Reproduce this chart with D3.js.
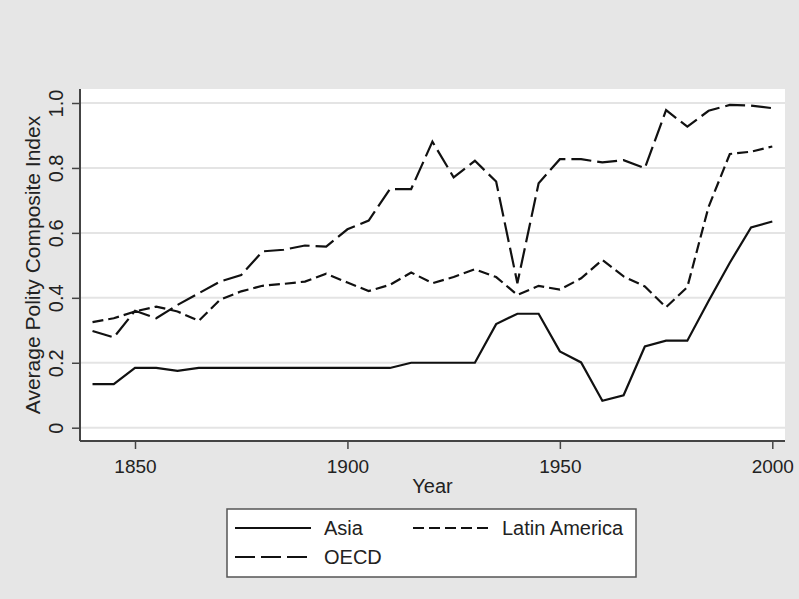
<!DOCTYPE html>
<html>
<head>
<meta charset="utf-8">
<script src="https://cdn.jsdelivr.net/npm/d3@7"></script>
<style>
body{margin:0;background:#e6e6e6;}
svg{display:block;font-family:"Liberation Sans",Arial,sans-serif;}
</style>
</head>
<body>
<svg id="chart"></svg>
<script>
//the years, every five years
var years = [1840,1845,1850,1855,1860,1865,1870,1875,1880,1885,1890,1895,1900,1905,1910,
             1915,1920,1925,1930,1935,1940,1945,1950,1955,1960,1965,1970,1975,1980,1985,1990,1995,2000];

//average polity index
var asia = [0.134,0.134,0.184,0.184,0.175,0.184,0.184,0.184,0.184,0.184,0.184,0.184,0.184,0.184,0.184,
            0.200,0.200,0.200,0.200,0.319,0.351,0.351,0.235,0.201,0.083,0.100,0.250,0.268,0.268,0.390,0.508,0.617,0.635];
var latinAmerica = [0.325,0.337,0.358,0.373,0.358,0.329,0.394,0.420,0.437,0.443,0.450,0.474,0.447,0.421,0.440,
            0.478,0.445,0.464,0.488,0.464,0.409,0.437,0.425,0.460,0.517,0.466,0.435,0.371,0.433,0.680,0.843,0.850,0.866];
var oecd = [0.298,0.278,0.360,0.337,0.378,0.414,0.450,0.470,0.543,0.548,0.561,0.558,0.611,0.638,0.735,
            0.735,0.881,0.771,0.822,0.758,0.445,0.753,0.827,0.827,0.817,0.824,0.799,0.978,0.927,0.976,0.994,0.992,0.984];

var xTicks = [1850,1900,1950,2000];
var yTicks = [0,0.2,0.4,0.6,0.8,1.0];
var seriesNames = ["Asia","Latin America","OECD"];

var screen = {width:799, height:599};
var plot = {left:80, right:785, top:89, bottom:441};

var svg = d3.select("#chart")
    .attr("width",screen.width)
    .attr("height",screen.height)

//gray background
svg.append("rect")
    .attr("width",screen.width)
    .attr("height",screen.height)
    .attr("fill","#e6e6e6")

//white plot region
svg.append("rect")
    .attr("x",plot.left)
    .attr("y",plot.top)
    .attr("width",plot.right-plot.left)
    .attr("height",plot.bottom-plot.top)
    .attr("fill","#ffffff")

var xScale = d3.scaleLinear()
    .domain([1850,2000])
    .range([135,772.3])

var yScale = d3.scaleLinear()
    .domain([0,1])
    .range([427.7,103])

//grid lines
svg.append("g")
    .selectAll("line")
    .data(yTicks)
    .enter()
    .append("line")
    .attr("x1",plot.left)
    .attr("x2",plot.right)
    .attr("y1",function(d){return yScale(d);})
    .attr("y2",function(d){return yScale(d);})
    .attr("stroke","#e4e4e4")
    .attr("stroke-width",2)

//axes
var yAxis = d3.axisLeft(yScale)
    .tickValues(yTicks)
    .tickSize(8)
    .tickFormat(function(d){return d==0 ? "0" : d3.format(".1f")(d);})

var xAxis = d3.axisBottom(xScale)
    .tickValues(xTicks)
    .tickSize(8)
    .tickFormat(d3.format("d"))

var gy = svg.append("g")
    .attr("transform","translate("+plot.left+",0)")
    .call(yAxis)
gy.select(".domain").remove()
gy.selectAll(".tick line").attr("stroke","#444").attr("stroke-width",1.5)
gy.selectAll(".tick text")
    .attr("x",null).attr("dy",null)
    .attr("transform","translate(-17,0) rotate(-90)")
    .attr("text-anchor","middle")
    .attr("font-size",20)
    .attr("fill","#222")

var gx = svg.append("g")
    .attr("transform","translate(0,"+plot.bottom+")")
    .call(xAxis)
gx.select(".domain").remove()
gx.selectAll(".tick line").attr("stroke","#444").attr("stroke-width",1.5)
gx.selectAll(".tick text")
    .attr("y",32).attr("dy",null)
    .attr("font-size",19)
    .attr("fill","#222")

//axis lines
svg.append("line")
    .attr("x1",plot.left).attr("x2",plot.left)
    .attr("y1",plot.top).attr("y2",plot.bottom)
    .attr("stroke","#444").attr("stroke-width",2)
svg.append("line")
    .attr("x1",plot.left).attr("x2",plot.right)
    .attr("y1",plot.bottom).attr("y2",plot.bottom)
    .attr("stroke","#444").attr("stroke-width",2)

//axis titles
svg.append("text")
    .attr("transform","translate(40,265) rotate(-90)")
    .attr("text-anchor","middle")
    .attr("font-size",21)
    .attr("fill","#222")
    .text("Average Polity Composite Index")

svg.append("text")
    .attr("x",(plot.left+plot.right)/2)
    .attr("y",493)
    .attr("text-anchor","middle")
    .attr("font-size",20)
    .attr("fill","#222")
    .text("Year")

//the lines
var series = [
    {name:seriesNames[0], values:asia, dash:null},
    {name:seriesNames[1], values:latinAmerica, dash:"11,5"},
    {name:seriesNames[2], values:oecd, dash:"20,6"}
];

var line = d3.line()
    .x(function(d,i){return xScale(years[i]);})
    .y(function(d){return yScale(d);})

svg.append("g")
    .selectAll("path")
    .data(series)
    .enter()
    .append("path")
    .attr("d",function(s){return line(s.values);})
    .attr("fill","none")
    .attr("stroke","#111")
    .attr("stroke-width",2.2)
    .attr("stroke-dasharray",function(s){return s.dash;})

//legend
var legend = svg.append("g")
svg.append("rect")
    .attr("x",227).attr("y",509)
    .attr("width",409).attr("height",68)
    .attr("fill","#fff")
    .attr("stroke","#555")
    .attr("stroke-width",1.5)

var legendPos = [{x:235,y:528},{x:413,y:528},{x:235,y:557}];
var items = svg.append("g")
    .selectAll("g")
    .data(series)
    .enter()
    .append("g")
    .attr("transform",function(s,i){return "translate("+legendPos[i].x+","+legendPos[i].y+")";})
items.append("line")
    .attr("x1",0).attr("x2",76)
    .attr("stroke","#111")
    .attr("stroke-width",2.2)
    .attr("stroke-dasharray",function(s){return s.dash;})
items.append("text")
    .attr("x",89)
    .attr("y",7)
    .attr("font-size",20)
    .attr("fill","#222")
    .text(function(s){return s.name;})
</script>
</body>
</html>
